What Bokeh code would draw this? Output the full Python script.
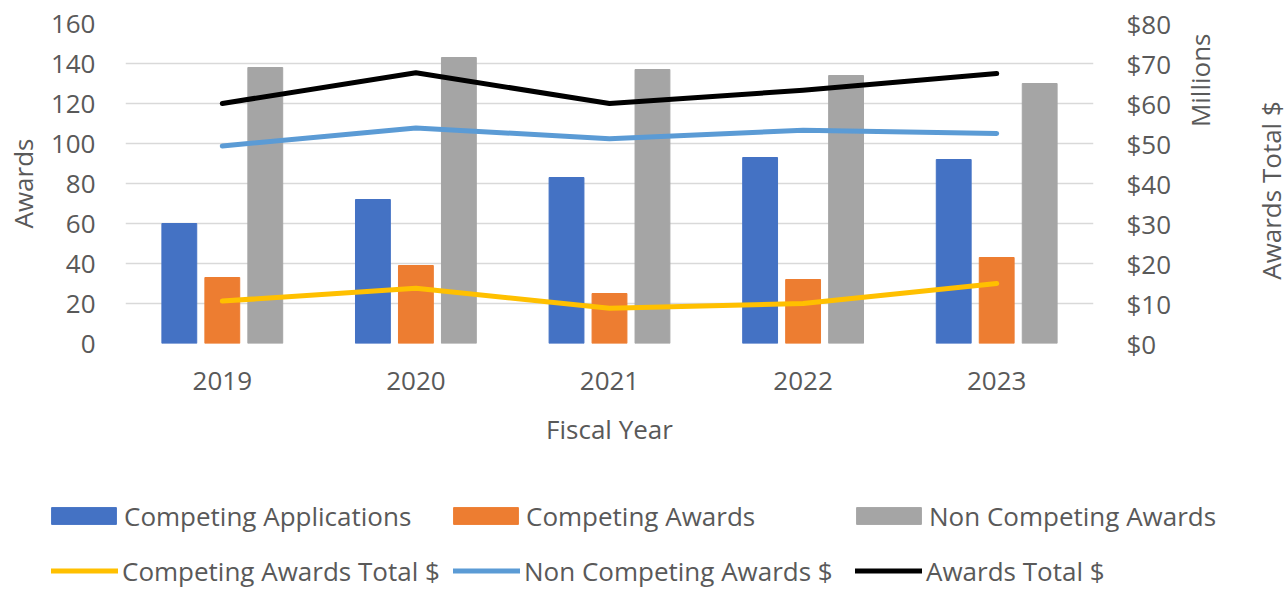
from bokeh.plotting import figure
from bokeh.models import (ColumnDataSource, Range1d, LinearAxis, Legend, LegendItem,
                          NumeralTickFormatter, SingleIntervalTicker, FactorRange, Label)
from bokeh.layouts import column, row
from bokeh.transform import dodge
from bokeh.embed import file_html
from bokeh.resources import INLINE
import math

years = ["2019", "2020", "2021", "2022", "2023"]
competing_applications = [60, 72, 83, 93, 92]
competing_awards = [33, 39, 25, 32, 43]
non_competing_awards = [138, 143, 137, 134, 130]
# $ millions (right axis)
competing_awards_total = [10.6, 13.8, 8.8, 10.0, 15.0]
non_competing_awards_total = [49.4, 53.9, 51.2, 53.3, 52.5]
awards_total = [60.0, 67.7, 60.0, 63.3, 67.5]

series_names = ["Competing Applications", "Competing Awards", "Non Competing Awards",
                "Competing Awards Total $", "Non Competing Awards $", "Awards Total $"]
colors = ["#4472C4", "#ED7D31", "#A5A5A5", "#FFC000", "#5B9BD5", "#000000"]

FONT = "Open Sans"
TXT = "#595959"
FS = "26px"
W = 0.18
LW = 5

src = ColumnDataSource(dict(
    year=years, apps=competing_applications, comp=competing_awards,
    noncomp=non_competing_awards, comp_tot=competing_awards_total,
    noncomp_tot=non_competing_awards_total, tot=awards_total))


def draw_series(fig, shift=0.0):
    rs = [
        fig.vbar(x=dodge("year", shift - 0.222, range=fig.x_range), top="apps", width=W,
                 source=src, color=colors[0]),
        fig.vbar(x=dodge("year", shift, range=fig.x_range), top="comp", width=W,
                 source=src, color=colors[1]),
        fig.vbar(x=dodge("year", shift + 0.222, range=fig.x_range), top="noncomp",
                 width=W, source=src, color=colors[2]),
    ]
    for col, c in (("comp_tot", colors[3]), ("noncomp_tot", colors[4]), ("tot", colors[5])):
        rs.append(fig.line(x=dodge("year", shift, range=fig.x_range), y=col, source=src,
                           y_range_name="money", line_color=c, line_width=LW,
                           line_cap="round", line_join="round"))
    return rs


H1 = 480
W1 = 1174
p = figure(x_range=FactorRange(*years, range_padding=0), y_range=Range1d(0, 160),
           width=W1, height=H1, output_backend="svg", toolbar_location=None,
           min_border_left=125, min_border_right=W1 - 1095, min_border_top=23,
           min_border_bottom=H1 - 343)
p.frame_align = False
p.extra_y_ranges = {"money": Range1d(0, 80)}
p.outline_line_color = None
p.xgrid.grid_line_color = None
p.ygrid.grid_line_color = "#D9D9D9"
p.ygrid.grid_line_width = 1.3

yl = p.yaxis[0]
yl.ticker = SingleIntervalTicker(interval=20, num_minor_ticks=0)
yl.axis_label = "Awards"
yl.major_label_standoff = 30
yl.axis_label_standoff = 7

yr = LinearAxis(y_range_name="money",
                ticker=SingleIntervalTicker(interval=10, num_minor_ticks=0),
                formatter=NumeralTickFormatter(format="$0"))
yr.major_label_standoff = 33
p.add_layout(yr, "right")

xa = p.xaxis[0]
xa.axis_label = "Fiscal Year"
xa.major_label_standoff = 28
xa.axis_label_standoff = 18

for ax in (yl, yr, xa):
    ax.axis_line_color = None
    ax.major_tick_line_color = None
    ax.minor_tick_line_color = None
    ax.major_tick_out = 0
    ax.major_tick_in = 0
    ax.major_label_text_font = FONT
    ax.major_label_text_font_size = FS
    ax.major_label_text_color = TXT
    ax.axis_label_text_font = FONT
    ax.axis_label_text_font_size = FS
    ax.axis_label_text_color = TXT
    ax.axis_label_text_font_style = "normal"

draw_series(p)

# right strip: secondary axis titles
W2 = 1287 - W1
r = figure(width=W2, height=H1, x_range=Range1d(0, W2), y_range=Range1d(0, H1),
           output_backend="svg", toolbar_location=None, x_axis_type=None,
           y_axis_type=None, min_border=0, outline_line_color=None)
r.frame_align = False
r.xgrid.grid_line_color = None
r.ygrid.grid_line_color = None
r.add_layout(Label(x=1199 - W1, y=H1 - 33, text="Millions", angle=math.pi / 2,
                   text_align="right", text_baseline="middle", text_font=FONT,
                   text_font_size=FS, text_color=TXT))
r.add_layout(Label(x=1270 - W1, y=H1 - 190, text="Awards Total $", angle=math.pi / 2,
                   text_align="center", text_baseline="middle", text_font=FONT,
                   text_font_size=FS, text_color=TXT))

# legend strip below the chart (series shifted out of view; only the keys show)
H2 = 589 - H1
q = figure(width=1287, height=H2, x_range=FactorRange(*years),
           y_range=Range1d(-2, -1), output_backend="svg", toolbar_location=None,
           x_axis_type=None, y_axis_type=None, min_border=0, outline_line_color=None)
q.frame_align = False
q.extra_y_ranges = {"money": Range1d(-2, -1)}
q.xgrid.grid_line_color = None
q.ygrid.grid_line_color = None
keys = draw_series(q, shift=100.0)

ITEM_H = 35
ROW1_C = 516 - H1
ROW2_C = 571 - H1


def add_leg(i, x, row_c, gw, standoff):
    top = row_c - ITEM_H / 2
    y = H2 - top - ITEM_H
    q.add_layout(Legend(items=[LegendItem(label=series_names[i], renderers=[keys[i]])],
                        location=(x, y), orientation="horizontal",
                        glyph_width=gw, glyph_height=21, label_standoff=standoff,
                        label_height=21, padding=0, margin=0, spacing=0,
                        border_line_color=None, background_fill_alpha=0,
                        label_text_font=FONT, label_text_font_size=FS,
                        label_text_color=TXT))


add_leg(0, 43, ROW1_C, 81, 0)
add_leg(1, 445, ROW1_C, 81, 0)
add_leg(2, 848, ROW1_C, 81, 0)
add_leg(3, 51, ROW2_C, 67, 4)
add_leg(4, 453, ROW2_C, 67, 4)
add_leg(5, 855, ROW2_C, 67, 4)

open("out.html", "w").write(file_html(column(row(p, r), q), INLINE))
